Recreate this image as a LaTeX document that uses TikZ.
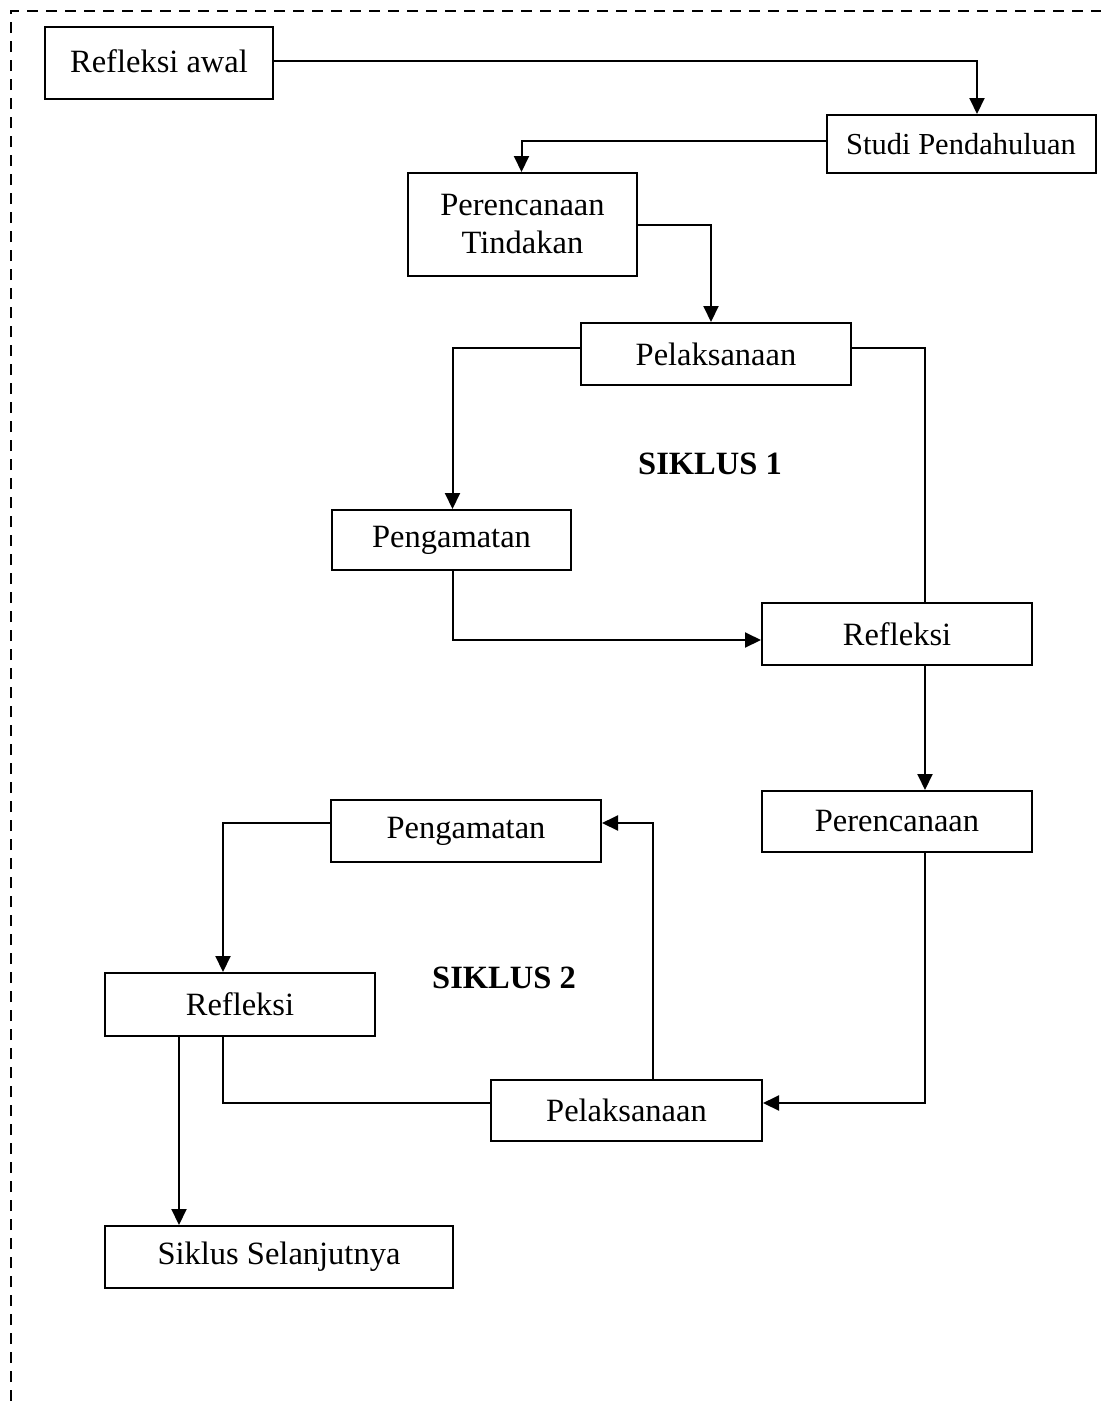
\documentclass[tikz,border=0pt]{standalone}
\usepackage{fontspec}
\setmainfont{Liberation Serif}
\usetikzlibrary{arrows.meta}
\begin{document}
\begin{tikzpicture}[x=1pt,y=1pt,
  box/.style={draw,line width=2pt,inner sep=0pt,align=center,font=\fontsize{32.5}{38}\selectfont},
  conn/.style={line width=2pt},
  arr/.style={conn,-{Triangle[length=16pt,width=15pt]}},
  lbl/.style={font=\fontsize{32.5}{38}\selectfont\bfseries}]
\useasboundingbox (0,0) rectangle (1101,-1401);
\draw[line width=2pt,dash pattern=on 11pt off 8pt] (11,-1401) -- (11,-11) -- (1101,-11);
\node[box,minimum width=228pt,minimum height=72pt,text depth=4pt] (ra) at (159,-63) {Refleksi awal};
\node[box,minimum width=269pt,minimum height=58pt,font=\fontsize{30.5}{36}\selectfont] (sp) at (961,-144) {Studi Pendahuluan};
\node[box,minimum width=229pt,minimum height=103pt] (pt) at (522.5,-224.5) {Perencanaan\\Tindakan};
\node[box,minimum width=270pt,minimum height=62pt] (p1) at (716,-354) {Pelaksanaan};
\node[box,minimum width=239pt,minimum height=60pt] (g1) at (451.5,-540) {Pengamatan};
\node[box,minimum width=270pt,minimum height=62pt] (r1) at (897,-634) {Refleksi};
\node[box,minimum width=270pt,minimum height=61pt] (pc2) at (897,-821.5) {Perencanaan};
\node[box,minimum width=271pt,minimum height=61pt] (p2) at (626.5,-1110.5) {Pelaksanaan};
\node[box,minimum width=270pt,minimum height=62pt] (g2) at (466,-831) {Pengamatan};
\node[box,minimum width=270pt,minimum height=63pt] (r2) at (240,-1004.5) {Refleksi};
\node[box,minimum width=348pt,minimum height=62pt] (ss) at (279,-1257) {Siklus Selanjutnya};
\node[lbl] (s1) at (710,-464) {SIKLUS 1};
\node[lbl] (s2) at (504,-978) {SIKLUS 2};
\draw[arr] ([yshift=2pt]ra.east) -| ([xshift=16pt]sp.north);
\draw[arr] ([yshift=3pt]sp.west) -| ([xshift=-1pt]pt.north);
\draw[arr] (pt.east) -| ([xshift=-5pt]p1.north);
\draw[arr] ([yshift=6pt]p1.west) -| ([xshift=1pt]g1.north);
\draw[conn] ([yshift=6pt]p1.east) -| ([xshift=28pt]r1.north);
\draw[arr] ([xshift=1pt]g1.south) |- ([yshift=-6pt]r1.west);
\draw[arr] ([xshift=28pt]r1.south) -- ([xshift=28pt]pc2.north);
\draw[arr] ([xshift=28pt]pc2.south) |- ([yshift=7.5pt]p2.east);
\draw[arr] ([xshift=26.5pt]p2.north) |- ([yshift=8pt]g2.east);
\draw[arr] ([yshift=8pt]g2.west) -| ([xshift=-17pt]r2.north);
\draw[conn] ([xshift=-17pt]r2.south) |- ([yshift=7.5pt]p2.west);
\draw[arr] ([xshift=-61pt]r2.south) -- ([xshift=-61pt]r2.south |- ss.north);
\end{tikzpicture}
\end{document}
